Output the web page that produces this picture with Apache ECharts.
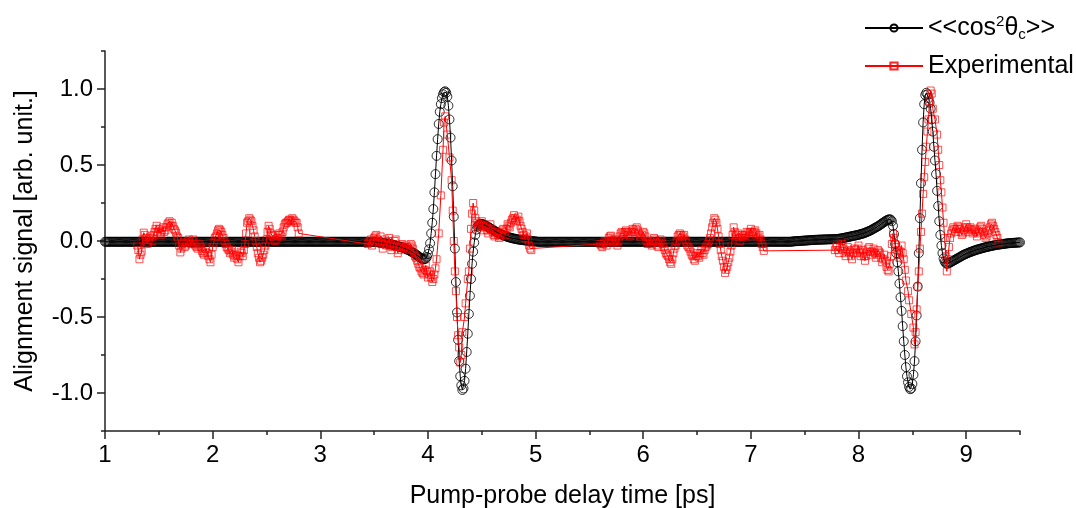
<!DOCTYPE html>
<html><head><meta charset="utf-8">
<script src="https://cdn.jsdelivr.net/npm/echarts@6/dist/echarts.min.js"></script>
<style>html,body{margin:0;padding:0;background:#fff}#c{width:1076px;height:508px}</style>
</head><body><div id="c"></div><script>
const xTicks=[1,2,3,4,5,6,7,8,9];
const xMinorTicks=[1.5,2.5,3.5,4.5,5.5,6.5,7.5,8.5,9.5];
const yTicks=[-1.0,-0.5,0.0,0.5,1.0];
const yMinorTicks=[-1.25,-0.75,-0.25,0.25,0.75,1.25];
const seriesNames=['<<cos²θc>>','Experimental'];

// theoretical <<cos^2 theta_c>> (x in ps, y)
const theory=[
[1.00,-0.005],[1.01,-0.005],[1.02,-0.005],[1.03,-0.005],[1.04,-0.005],[1.05,-0.005],[1.06,-0.005],[1.07,-0.005],[1.08,-0.005],[1.09,-0.005],
[1.10,-0.005],[1.11,-0.005],[1.12,-0.005],[1.13,-0.005],[1.14,-0.005],[1.15,-0.005],[1.16,-0.005],[1.17,-0.005],[1.18,-0.005],[1.19,-0.005],
[1.20,-0.005],[1.21,-0.005],[1.22,-0.005],[1.23,-0.005],[1.24,-0.005],[1.25,-0.005],[1.26,-0.005],[1.27,-0.005],[1.28,-0.005],[1.29,-0.005],
[1.30,-0.005],[1.31,-0.005],[1.32,-0.005],[1.33,-0.005],[1.34,-0.005],[1.35,-0.005],[1.36,-0.005],[1.37,-0.005],[1.38,-0.005],[1.39,-0.005],
[1.40,-0.005],[1.41,-0.005],[1.42,-0.005],[1.43,-0.005],[1.44,-0.005],[1.45,-0.005],[1.46,-0.005],[1.47,-0.005],[1.48,-0.005],[1.49,-0.005],
[1.50,-0.005],[1.51,-0.005],[1.52,-0.005],[1.53,-0.005],[1.54,-0.005],[1.55,-0.005],[1.56,-0.005],[1.57,-0.005],[1.58,-0.005],[1.59,-0.005],
[1.60,-0.005],[1.61,-0.005],[1.62,-0.005],[1.63,-0.005],[1.64,-0.005],[1.65,-0.005],[1.66,-0.005],[1.67,-0.005],[1.68,-0.005],[1.69,-0.005],
[1.70,-0.005],[1.71,-0.005],[1.72,-0.005],[1.73,-0.005],[1.74,-0.005],[1.75,-0.005],[1.76,-0.005],[1.77,-0.005],[1.78,-0.005],[1.79,-0.005],
[1.80,-0.005],[1.81,-0.005],[1.82,-0.005],[1.83,-0.005],[1.84,-0.005],[1.85,-0.005],[1.86,-0.005],[1.87,-0.005],[1.88,-0.005],[1.89,-0.005],
[1.90,-0.005],[1.91,-0.005],[1.92,-0.005],[1.93,-0.005],[1.94,-0.005],[1.95,-0.005],[1.96,-0.005],[1.97,-0.005],[1.98,-0.005],[1.99,-0.005],
[2.00,-0.005],[2.01,-0.005],[2.02,-0.005],[2.03,-0.005],[2.04,-0.005],[2.05,-0.005],[2.06,-0.005],[2.07,-0.005],[2.08,-0.005],[2.09,-0.005],
[2.10,-0.005],[2.11,-0.005],[2.12,-0.005],[2.13,-0.005],[2.14,-0.005],[2.15,-0.005],[2.16,-0.005],[2.17,-0.005],[2.18,-0.005],[2.19,-0.005],
[2.20,-0.005],[2.21,-0.005],[2.22,-0.005],[2.23,-0.005],[2.24,-0.005],[2.25,-0.005],[2.26,-0.005],[2.27,-0.005],[2.28,-0.005],[2.29,-0.005],
[2.30,-0.005],[2.31,-0.005],[2.32,-0.005],[2.33,-0.005],[2.34,-0.005],[2.35,-0.005],[2.36,-0.005],[2.37,-0.005],[2.38,-0.005],[2.39,-0.005],
[2.40,-0.005],[2.41,-0.005],[2.42,-0.005],[2.43,-0.005],[2.44,-0.005],[2.45,-0.005],[2.46,-0.005],[2.47,-0.005],[2.48,-0.005],[2.49,-0.005],
[2.50,-0.005],[2.51,-0.005],[2.52,-0.005],[2.53,-0.005],[2.54,-0.005],[2.55,-0.005],[2.56,-0.005],[2.57,-0.005],[2.58,-0.005],[2.59,-0.005],
[2.60,-0.005],[2.61,-0.005],[2.62,-0.005],[2.63,-0.005],[2.64,-0.005],[2.65,-0.005],[2.66,-0.005],[2.67,-0.005],[2.68,-0.005],[2.69,-0.005],
[2.70,-0.005],[2.71,-0.005],[2.72,-0.005],[2.73,-0.005],[2.74,-0.005],[2.75,-0.005],[2.76,-0.005],[2.77,-0.005],[2.78,-0.005],[2.79,-0.005],
[2.80,-0.005],[2.81,-0.005],[2.82,-0.005],[2.83,-0.005],[2.84,-0.005],[2.85,-0.005],[2.86,-0.005],[2.87,-0.005],[2.88,-0.005],[2.89,-0.005],
[2.90,-0.005],[2.91,-0.005],[2.92,-0.005],[2.93,-0.005],[2.94,-0.005],[2.95,-0.005],[2.96,-0.005],[2.97,-0.005],[2.98,-0.005],[2.99,-0.005],
[3.00,-0.005],[3.01,-0.005],[3.02,-0.005],[3.03,-0.005],[3.04,-0.005],[3.05,-0.005],[3.06,-0.005],[3.07,-0.005],[3.08,-0.005],[3.09,-0.005],
[3.10,-0.005],[3.11,-0.005],[3.12,-0.005],[3.13,-0.005],[3.14,-0.005],[3.15,-0.005],[3.16,-0.005],[3.17,-0.005],[3.18,-0.005],[3.19,-0.005],
[3.20,-0.005],[3.21,-0.005],[3.22,-0.005],[3.23,-0.005],[3.24,-0.005],[3.25,-0.005],[3.26,-0.005],[3.27,-0.005],[3.28,-0.005],[3.29,-0.005],
[3.30,-0.005],[3.31,-0.005],[3.32,-0.005],[3.33,-0.005],[3.34,-0.005],[3.35,-0.005],[3.36,-0.005],[3.37,-0.005],[3.38,-0.005],[3.39,-0.005],
[3.40,-0.005],[3.41,-0.005],[3.42,-0.005],[3.43,-0.005],[3.44,-0.005],[3.45,-0.005],[3.46,-0.005],[3.47,-0.005],[3.48,-0.005],[3.49,-0.005],
[3.50,-0.005],[3.51,-0.006],[3.52,-0.007],[3.53,-0.008],[3.54,-0.009],[3.55,-0.01],[3.56,-0.011],[3.57,-0.012],[3.58,-0.013],[3.59,-0.014],
[3.60,-0.015],[3.61,-0.016],[3.62,-0.017],[3.63,-0.018],[3.64,-0.019],[3.65,-0.02],[3.66,-0.022],[3.67,-0.024],[3.68,-0.026],[3.69,-0.028],
[3.70,-0.03],[3.71,-0.032],[3.72,-0.034],[3.73,-0.036],[3.74,-0.038],[3.75,-0.04],[3.76,-0.042],[3.77,-0.045],[3.78,-0.048],[3.79,-0.051],
[3.80,-0.054],[3.81,-0.057],[3.82,-0.06],[3.83,-0.064],[3.84,-0.068],[3.85,-0.072],[3.86,-0.076],[3.87,-0.08],[3.88,-0.085],[3.89,-0.09],
[3.90,-0.095],[3.91,-0.1],[3.92,-0.105],[3.93,-0.11],[3.94,-0.115],[3.95,-0.118],[3.96,-0.12],[3.97,-0.12],[3.98,-0.115],[3.99,-0.105],
[4.00,-0.085],[4.01,-0.055],[4.02,-0.015],[4.03,0.05],[4.04,0.12],[4.05,0.21],[4.06,0.32],[4.07,0.44],[4.08,0.56],[4.09,0.67],
[4.10,0.77],[4.11,0.85],[4.12,0.9],[4.13,0.94],[4.14,0.965],[4.15,0.98],[4.16,0.985],[4.17,0.975],[4.18,0.95],[4.19,0.89],
[4.20,0.8],[4.21,0.68],[4.22,0.53],[4.23,0.36],[4.24,0.16],[4.25,-0.05],[4.26,-0.27],[4.27,-0.47],[4.28,-0.65],[4.29,-0.79],
[4.30,-0.89],[4.31,-0.95],[4.32,-0.98],[4.33,-0.97],[4.34,-0.92],[4.35,-0.84],[4.36,-0.73],[4.37,-0.61],[4.38,-0.48],[4.39,-0.36],
[4.40,-0.25],[4.41,-0.15],[4.42,-0.07],[4.43,-0.01],[4.44,0.04],[4.45,0.075],[4.46,0.095],[4.47,0.105],[4.48,0.11],[4.49,0.112],
[4.50,0.112],[4.51,0.11],[4.52,0.108],[4.53,0.104],[4.54,0.1],[4.55,0.096],[4.56,0.092],[4.57,0.088],[4.58,0.083],[4.59,0.079],
[4.60,0.075],[4.61,0.07],[4.62,0.066],[4.63,0.062],[4.64,0.058],[4.65,0.054],[4.66,0.05],[4.67,0.047],[4.68,0.044],[4.69,0.041],
[4.70,0.038],[4.71,0.035],[4.72,0.032],[4.73,0.03],[4.74,0.027],[4.75,0.025],[4.76,0.023],[4.77,0.021],[4.78,0.019],[4.79,0.017],
[4.80,0.016],[4.81,0.014],[4.82,0.013],[4.83,0.011],[4.84,0.01],[4.85,0.009],[4.86,0.008],[4.87,0.007],[4.88,0.006],[4.89,0.005],
[4.90,0.004],[4.91,0.003],[4.92,0.002],[4.93,0.001],[4.94,0.001],[4.95,0.0],[4.96,0.0],[4.97,-0.001],[4.98,-0.002],[4.99,-0.002],
[5.00,-0.003],[5.01,-0.004],[5.02,-0.005],[5.03,-0.005],[5.04,-0.005],[5.05,-0.005],[5.06,-0.005],[5.07,-0.005],[5.08,-0.005],[5.09,-0.005],
[5.10,-0.005],[5.11,-0.005],[5.12,-0.005],[5.13,-0.005],[5.14,-0.005],[5.15,-0.005],[5.16,-0.005],[5.17,-0.005],[5.18,-0.005],[5.19,-0.005],
[5.20,-0.005],[5.21,-0.005],[5.22,-0.005],[5.23,-0.005],[5.24,-0.005],[5.25,-0.005],[5.26,-0.005],[5.27,-0.005],[5.28,-0.005],[5.29,-0.005],
[5.30,-0.005],[5.31,-0.005],[5.32,-0.005],[5.33,-0.005],[5.34,-0.005],[5.35,-0.005],[5.36,-0.005],[5.37,-0.005],[5.38,-0.005],[5.39,-0.005],
[5.40,-0.005],[5.41,-0.005],[5.42,-0.005],[5.43,-0.005],[5.44,-0.005],[5.45,-0.005],[5.46,-0.005],[5.47,-0.005],[5.48,-0.005],[5.49,-0.005],
[5.50,-0.005],[5.51,-0.005],[5.52,-0.005],[5.53,-0.005],[5.54,-0.005],[5.55,-0.005],[5.56,-0.005],[5.57,-0.005],[5.58,-0.005],[5.59,-0.005],
[5.60,-0.005],[5.61,-0.005],[5.62,-0.005],[5.63,-0.005],[5.64,-0.005],[5.65,-0.005],[5.66,-0.005],[5.67,-0.005],[5.68,-0.005],[5.69,-0.005],
[5.70,-0.005],[5.71,-0.005],[5.72,-0.005],[5.73,-0.005],[5.74,-0.005],[5.75,-0.005],[5.76,-0.005],[5.77,-0.005],[5.78,-0.005],[5.79,-0.005],
[5.80,-0.005],[5.81,-0.005],[5.82,-0.005],[5.83,-0.005],[5.84,-0.005],[5.85,-0.005],[5.86,-0.005],[5.87,-0.005],[5.88,-0.005],[5.89,-0.005],
[5.90,-0.005],[5.91,-0.005],[5.92,-0.005],[5.93,-0.005],[5.94,-0.005],[5.95,-0.005],[5.96,-0.005],[5.97,-0.005],[5.98,-0.005],[5.99,-0.005],
[6.00,-0.005],[6.01,-0.005],[6.02,-0.005],[6.03,-0.005],[6.04,-0.005],[6.05,-0.005],[6.06,-0.005],[6.07,-0.005],[6.08,-0.005],[6.09,-0.005],
[6.10,-0.005],[6.11,-0.005],[6.12,-0.005],[6.13,-0.005],[6.14,-0.005],[6.15,-0.005],[6.16,-0.005],[6.17,-0.005],[6.18,-0.005],[6.19,-0.005],
[6.20,-0.005],[6.21,-0.005],[6.22,-0.005],[6.23,-0.005],[6.24,-0.005],[6.25,-0.005],[6.26,-0.005],[6.27,-0.005],[6.28,-0.005],[6.29,-0.005],
[6.30,-0.005],[6.31,-0.005],[6.32,-0.005],[6.33,-0.005],[6.34,-0.005],[6.35,-0.005],[6.36,-0.005],[6.37,-0.005],[6.38,-0.005],[6.39,-0.005],
[6.40,-0.005],[6.41,-0.005],[6.42,-0.005],[6.43,-0.005],[6.44,-0.005],[6.45,-0.005],[6.46,-0.005],[6.47,-0.005],[6.48,-0.005],[6.49,-0.005],
[6.50,-0.005],[6.51,-0.005],[6.52,-0.005],[6.53,-0.005],[6.54,-0.005],[6.55,-0.005],[6.56,-0.005],[6.57,-0.005],[6.58,-0.005],[6.59,-0.005],
[6.60,-0.005],[6.61,-0.005],[6.62,-0.005],[6.63,-0.005],[6.64,-0.005],[6.65,-0.005],[6.66,-0.005],[6.67,-0.005],[6.68,-0.005],[6.69,-0.005],
[6.70,-0.005],[6.71,-0.005],[6.72,-0.005],[6.73,-0.005],[6.74,-0.005],[6.75,-0.005],[6.76,-0.005],[6.77,-0.005],[6.78,-0.005],[6.79,-0.005],
[6.80,-0.005],[6.81,-0.005],[6.82,-0.005],[6.83,-0.005],[6.84,-0.005],[6.85,-0.005],[6.86,-0.005],[6.87,-0.005],[6.88,-0.005],[6.89,-0.005],
[6.90,-0.005],[6.91,-0.005],[6.92,-0.005],[6.93,-0.005],[6.94,-0.005],[6.95,-0.005],[6.96,-0.005],[6.97,-0.005],[6.98,-0.005],[6.99,-0.005],
[7.00,-0.005],[7.01,-0.005],[7.02,-0.005],[7.03,-0.005],[7.04,-0.005],[7.05,-0.005],[7.06,-0.005],[7.07,-0.005],[7.08,-0.005],[7.09,-0.005],
[7.10,-0.005],[7.11,-0.005],[7.12,-0.005],[7.13,-0.005],[7.14,-0.005],[7.15,-0.005],[7.16,-0.005],[7.17,-0.005],[7.18,-0.005],[7.19,-0.005],
[7.20,-0.005],[7.21,-0.005],[7.22,-0.005],[7.23,-0.005],[7.24,-0.005],[7.25,-0.005],[7.26,-0.005],[7.27,-0.005],[7.28,-0.005],[7.29,-0.005],
[7.30,-0.005],[7.31,-0.005],[7.32,-0.005],[7.33,-0.005],[7.34,-0.005],[7.35,-0.005],[7.36,-0.005],[7.37,-0.005],[7.38,-0.004],[7.39,-0.003],
[7.40,-0.002],[7.41,-0.002],[7.42,-0.001],[7.43,-0.001],[7.44,0.0],[7.45,0.0],[7.46,0.001],[7.47,0.001],[7.48,0.002],[7.49,0.002],
[7.50,0.003],[7.51,0.003],[7.52,0.004],[7.53,0.004],[7.54,0.005],[7.55,0.005],[7.56,0.006],[7.57,0.006],[7.58,0.007],[7.59,0.007],
[7.60,0.008],[7.61,0.008],[7.62,0.008],[7.63,0.009],[7.64,0.009],[7.65,0.009],[7.66,0.009],[7.67,0.01],[7.68,0.01],[7.69,0.01],
[7.70,0.01],[7.71,0.011],[7.72,0.011],[7.73,0.011],[7.74,0.011],[7.75,0.012],[7.76,0.012],[7.77,0.012],[7.78,0.012],[7.79,0.013],
[7.80,0.013],[7.81,0.014],[7.82,0.015],[7.83,0.016],[7.84,0.017],[7.85,0.018],[7.86,0.02],[7.87,0.021],[7.88,0.023],[7.89,0.024],
[7.90,0.026],[7.91,0.027],[7.92,0.029],[7.93,0.03],[7.94,0.032],[7.95,0.033],[7.96,0.035],[7.97,0.036],[7.98,0.038],[7.99,0.039],
[8.00,0.041],[8.01,0.043],[8.02,0.045],[8.03,0.047],[8.04,0.049],[8.05,0.051],[8.06,0.054],[8.07,0.057],[8.08,0.06],[8.09,0.063],
[8.10,0.066],[8.11,0.069],[8.12,0.073],[8.13,0.077],[8.14,0.081],[8.15,0.085],[8.16,0.089],[8.17,0.093],[8.18,0.097],[8.19,0.101],
[8.20,0.106],[8.21,0.111],[8.22,0.116],[8.23,0.121],[8.24,0.126],[8.25,0.131],[8.26,0.135],[8.27,0.139],[8.28,0.142],[8.29,0.143],
[8.30,0.14],[8.31,0.13],[8.32,0.1],[8.33,0.045],[8.34,-0.02],[8.35,-0.08],[8.36,-0.14],[8.37,-0.2],[8.38,-0.28],[8.39,-0.37],
[8.40,-0.46],[8.41,-0.56],[8.42,-0.66],[8.43,-0.75],[8.44,-0.83],[8.45,-0.89],[8.46,-0.93],[8.47,-0.96],[8.48,-0.975],[8.49,-0.97],
[8.50,-0.94],[8.51,-0.88],[8.52,-0.79],[8.53,-0.66],[8.54,-0.49],[8.55,-0.3],[8.56,-0.08],[8.57,0.15],[8.58,0.38],[8.59,0.6],
[8.60,0.78],[8.61,0.9],[8.62,0.96],[8.63,0.975],[8.64,0.965],[8.65,0.94],[8.66,0.91],[8.67,0.87],[8.68,0.8],[8.69,0.72],
[8.70,0.62],[8.71,0.53],[8.72,0.44],[8.73,0.33],[8.74,0.23],[8.75,0.13],[8.76,0.04],[8.77,-0.03],[8.78,-0.08],[8.79,-0.115],
[8.80,-0.135],[8.81,-0.145],[8.82,-0.15],[8.83,-0.148],[8.84,-0.145],[8.85,-0.142],[8.86,-0.138],[8.87,-0.134],[8.88,-0.13],[8.89,-0.126],
[8.90,-0.122],[8.91,-0.118],[8.92,-0.114],[8.93,-0.11],[8.94,-0.106],[8.95,-0.102],[8.96,-0.098],[8.97,-0.094],[8.98,-0.09],[8.99,-0.087],
[9.00,-0.084],[9.01,-0.081],[9.02,-0.078],[9.03,-0.075],[9.04,-0.072],[9.05,-0.07],[9.06,-0.067],[9.07,-0.064],[9.08,-0.062],[9.09,-0.06],
[9.10,-0.057],[9.11,-0.055],[9.12,-0.053],[9.13,-0.051],[9.14,-0.049],[9.15,-0.047],[9.16,-0.045],[9.17,-0.043],[9.18,-0.041],[9.19,-0.04],
[9.20,-0.038],[9.21,-0.036],[9.22,-0.035],[9.23,-0.033],[9.24,-0.032],[9.25,-0.03],[9.26,-0.029],[9.27,-0.027],[9.28,-0.026],[9.29,-0.025],
[9.30,-0.024],[9.31,-0.023],[9.32,-0.022],[9.33,-0.021],[9.34,-0.02],[9.35,-0.019],[9.36,-0.018],[9.37,-0.017],[9.38,-0.016],[9.39,-0.015],
[9.40,-0.014],[9.41,-0.014],[9.42,-0.013],[9.43,-0.013],[9.44,-0.012],[9.45,-0.012],[9.46,-0.011],[9.47,-0.011],[9.48,-0.01],[9.49,-0.01],
[9.50,-0.009]
];

// experimental alignment signal (x in ps, y)
const experimental=[
[1.30,-0.03],[1.31,-0.06],[1.32,-0.12],[1.33,-0.09],[1.34,-0.07],[1.35,0.01],[1.36,0.055],[1.37,0.04],[1.38,0.02],[1.39,-0.02],
[1.40,-0.01],[1.41,0.01],[1.42,0.03],[1.43,0.02],[1.44,0.0],[1.45,0.04],[1.46,0.06],[1.47,0.08],[1.48,0.1],[1.49,0.06],
[1.50,0.08],[1.51,0.05],[1.52,0.04],[1.53,0.07],[1.54,0.09],[1.55,0.06],[1.56,0.07],[1.57,0.09],[1.58,0.11],[1.59,0.12],
[1.60,0.13],[1.61,0.1],[1.62,0.12],[1.63,0.1],[1.64,0.08],[1.65,0.07],[1.66,0.055],[1.67,0.03],[1.68,0.02],[1.69,-0.03],
[1.70,-0.075],[1.71,-0.05],[1.72,-0.02],[1.73,-0.01],[1.74,-0.04],[1.75,-0.03],[1.76,-0.01],[1.77,0.0],[1.78,0.01],[1.79,-0.01],
[1.80,-0.02],[1.81,0.0],[1.82,0.01],[1.83,-0.02],[1.84,-0.03],[1.85,-0.04],[1.86,-0.05],[1.87,-0.03],[1.88,-0.02],[1.89,-0.04],
[1.90,-0.065],[1.91,-0.08],[1.92,-0.09],[1.93,-0.07],[1.94,-0.05],[1.95,-0.08],[1.96,-0.1],[1.97,-0.12],[1.98,-0.14],[1.99,-0.09],
[2.00,-0.04],[2.01,-0.01],[2.02,0.02],[2.03,0.03],[2.04,0.05],[2.05,0.07],[2.06,0.08],[2.07,0.07],[2.08,0.06],[2.09,0.04],
[2.10,0.02],[2.11,0.0],[2.12,-0.02],[2.13,-0.04],[2.14,-0.05],[2.15,-0.06],[2.16,-0.08],[2.17,-0.07],[2.18,-0.06],[2.19,-0.09],
[2.20,-0.11],[2.21,-0.1],[2.22,-0.09],[2.23,-0.12],[2.24,-0.14],[2.25,-0.1],[2.26,-0.07],[2.27,-0.08],[2.28,-0.1],[2.29,-0.06],
[2.30,-0.02],[2.31,0.05],[2.32,0.12],[2.33,0.13],[2.34,0.15],[2.35,0.14],[2.36,0.13],[2.37,0.1],[2.38,0.07],[2.39,0.03],
[2.40,0.0],[2.41,-0.04],[2.42,-0.08],[2.43,-0.11],[2.44,-0.14],[2.45,-0.13],[2.46,-0.11],[2.47,-0.09],[2.48,-0.06],[2.49,-0.03],
[2.50,0.01],[2.51,0.06],[2.52,0.1],[2.53,0.08],[2.54,0.05],[2.55,0.04],[2.56,0.03],[2.57,0.01],[2.58,0.0],[2.59,0.01],
[2.60,0.02],[2.61,0.04],[2.62,0.05],[2.63,0.04],[2.64,0.03],[2.65,0.06],[2.66,0.09],[2.67,0.11],[2.68,0.12],[2.69,0.12],
[2.70,0.13],[2.71,0.14],[2.72,0.14],[2.73,0.13],[2.74,0.15],[2.75,0.14],[2.76,0.13],[2.77,0.12],[2.78,0.12],[2.79,0.09],[2.80,0.05],
[3.44,-0.02],[3.45,-0.01],[3.46,0.0],[3.47,0.01],[3.48,-0.03],[3.49,-0.01],[3.50,0.02],[3.51,0.03],[3.52,0.04],[3.53,0.01],
[3.54,-0.01],[3.55,0.0],[3.56,0.03],[3.57,-0.02],[3.58,-0.05],[3.59,-0.02],[3.60,0.01],[3.61,-0.01],[3.62,-0.03],[3.63,0.0],
[3.64,0.02],[3.65,-0.03],[3.66,-0.06],[3.67,-0.04],[3.68,-0.02],[3.69,0.0],[3.70,0.01],[3.71,-0.04],[3.72,-0.08],[3.73,-0.06],
[3.74,-0.04],[3.75,-0.03],[3.76,-0.02],[3.77,-0.04],[3.78,-0.05],[3.79,-0.04],[3.80,-0.03],[3.81,-0.05],[3.82,-0.06],[3.83,-0.04],
[3.84,-0.02],[3.85,-0.03],[3.86,-0.05],[3.87,-0.08],[3.88,-0.1],[3.89,-0.11],[3.90,-0.13],[3.91,-0.15],[3.92,-0.17],[3.93,-0.18],
[3.94,-0.2],[3.95,-0.21],[3.96,-0.22],[3.97,-0.19],[3.98,-0.16],[3.99,-0.2],[4.00,-0.24],[4.01,-0.22],[4.02,-0.2],[4.03,-0.24],
[4.04,-0.27],[4.05,-0.25],[4.06,-0.22],[4.07,-0.18],[4.08,-0.12],[4.10,0.05],[4.12,0.3],[4.14,0.6],[4.15,0.78],[4.16,0.82],
[4.18,0.7],[4.20,0.55],[4.22,0.4],[4.23,0.2],[4.24,0.0],[4.25,-0.2],[4.26,-0.33],[4.27,-0.5],[4.28,-0.62],[4.29,-0.7],
[4.30,-0.8],[4.31,-0.75],[4.32,-0.6],[4.34,-0.5],[4.35,-0.41],[4.37,-0.25],[4.38,-0.2],[4.39,-0.05],[4.40,0.08],[4.41,0.18],
[4.42,0.25],[4.43,0.2],[4.44,0.15],[4.45,0.13],[4.46,0.12],[4.47,0.1],[4.48,0.09],[4.49,0.11],[4.50,0.13],[4.51,0.1],
[4.52,0.07],[4.53,0.09],[4.54,0.1],[4.55,0.07],[4.56,0.05],[4.57,0.08],[4.58,0.11],[4.59,0.08],[4.60,0.06],[4.61,0.04],
[4.62,0.03],[4.63,0.05],[4.64,0.06],[4.65,0.04],[4.66,0.02],[4.67,0.03],[4.68,0.05],[4.69,0.07],[4.70,0.08],[4.71,0.06],
[4.72,0.04],[4.73,0.08],[4.74,0.11],[4.75,0.1],[4.76,0.09],[4.77,0.12],[4.78,0.14],[4.79,0.15],[4.80,0.17],[4.81,0.15],
[4.82,0.13],[4.83,0.14],[4.84,0.16],[4.85,0.13],[4.86,0.1],[4.87,0.08],[4.88,0.06],[4.89,0.04],[4.90,0.02],[4.91,0.03],
[4.92,0.05],[4.93,0.01],[4.94,-0.03],[4.95,-0.05],[4.96,-0.06],
[5.60,-0.02],[5.61,-0.03],[5.62,-0.04],[5.63,-0.02],[5.64,0.0],[5.65,-0.01],[5.66,-0.03],[5.67,0.0],[5.68,0.02],[5.69,0.03],
[5.70,0.035],[5.71,0.01],[5.72,-0.01],[5.73,0.0],[5.74,0.01],[5.75,-0.01],[5.76,-0.03],[5.77,0.0],[5.78,0.03],[5.79,0.05],
[5.80,0.06],[5.81,0.05],[5.82,0.04],[5.83,0.06],[5.84,0.07],[5.85,0.06],[5.86,0.05],[5.87,0.04],[5.88,0.03],[5.89,0.06],
[5.90,0.08],[5.91,0.07],[5.92,0.06],[5.93,0.08],[5.94,0.09],[5.95,0.07],[5.96,0.05],[5.97,0.03],[5.98,0.02],[5.99,0.04],
[6.00,0.06],[6.01,0.05],[6.02,0.03],[6.03,0.0],[6.04,-0.02],[6.05,-0.01],[6.06,0.0],[6.07,-0.02],[6.08,-0.03],[6.09,0.0],
[6.10,0.02],[6.11,0.01],[6.12,-0.01],[6.13,-0.03],[6.14,-0.04],[6.15,-0.01],[6.16,0.01],[6.17,0.0],[6.18,-0.02],[6.19,-0.04],
[6.20,-0.06],[6.21,-0.08],[6.22,-0.09],[6.23,-0.1],[6.24,-0.12],[6.25,-0.14],[6.26,-0.15],[6.27,-0.12],[6.28,-0.08],[6.29,-0.05],
[6.30,-0.03],[6.31,0.0],[6.32,0.03],[6.33,0.04],[6.34,0.05],[6.35,0.04],[6.36,0.02],[6.37,0.03],[6.38,0.04],[6.39,0.01],
[6.40,-0.01],[6.41,-0.03],[6.42,-0.04],[6.43,-0.05],[6.44,-0.07],[6.45,-0.09],[6.46,-0.1],[6.47,-0.12],[6.48,-0.13],[6.49,-0.1],
[6.50,-0.08],[6.51,-0.1],[6.52,-0.11],[6.53,-0.08],[6.54,-0.06],[6.55,-0.08],[6.56,-0.09],[6.57,-0.06],[6.58,-0.04],[6.59,-0.03],
[6.60,-0.02],[6.61,0.0],[6.62,0.02],[6.63,0.05],[6.64,0.09],[6.65,0.12],[6.66,0.15],[6.67,0.14],[6.68,0.12],[6.69,0.08],
[6.70,0.03],[6.71,-0.02],[6.72,-0.06],[6.73,-0.1],[6.74,-0.13],[6.75,-0.17],[6.76,-0.21],[6.77,-0.19],[6.78,-0.17],[6.79,-0.14],
[6.80,-0.11],[6.81,-0.07],[6.82,-0.03],[6.83,0.04],[6.84,0.09],[6.85,0.06],[6.86,0.03],[6.87,0.04],[6.88,0.05],[6.89,0.02],
[6.90,0.0],[6.91,0.02],[6.92,0.04],[6.93,0.03],[6.94,0.02],[6.95,0.04],[6.96,0.06],[6.97,0.05],[6.98,0.03],[6.99,0.06],
[7.00,0.08],[7.01,0.06],[7.02,0.05],[7.03,0.06],[7.04,0.07],[7.05,0.05],[7.06,0.02],[7.07,0.03],[7.08,0.04],[7.09,0.01],
[7.10,-0.02],[7.11,-0.04],[7.12,-0.065],
[7.78,-0.06],[7.79,-0.04],[7.80,-0.03],[7.81,-0.06],[7.82,-0.08],[7.83,-0.04],[7.84,0.0],[7.85,-0.02],[7.86,-0.05],[7.87,-0.08],
[7.88,-0.1],[7.89,-0.07],[7.90,-0.04],[7.91,-0.06],[7.92,-0.07],[7.93,-0.1],[7.94,-0.12],[7.95,-0.08],[7.96,-0.05],[7.97,-0.06],
[7.98,-0.08],[7.99,-0.05],[8.00,-0.03],[8.01,-0.07],[8.02,-0.1],[8.03,-0.08],[8.04,-0.06],[8.05,-0.1],[8.06,-0.13],[8.07,-0.1],
[8.08,-0.07],[8.09,-0.05],[8.10,-0.04],[8.11,-0.07],[8.12,-0.09],[8.13,-0.07],[8.14,-0.05],[8.15,-0.08],[8.16,-0.11],[8.17,-0.09],
[8.18,-0.06],[8.19,-0.07],[8.20,-0.08],[8.21,-0.11],[8.22,-0.14],[8.23,-0.12],[8.24,-0.09],[8.25,-0.13],[8.26,-0.17],[8.27,-0.19],
[8.28,-0.2],[8.29,-0.15],[8.30,-0.1],[8.31,-0.02],[8.32,0.05],[8.33,0.02],[8.34,-0.02],[8.35,-0.04],[8.36,-0.06],[8.37,-0.09],
[8.38,-0.11],[8.39,-0.07],[8.40,-0.03],[8.41,-0.08],[8.42,-0.12],[8.43,-0.19],[8.44,-0.26],[8.46,-0.33],[8.47,-0.39],[8.49,-0.48],
[8.51,-0.57],[8.52,-0.68],[8.53,-0.6],[8.54,-0.45],[8.55,-0.3],[8.56,-0.2],[8.57,-0.05],[8.58,0.06],[8.59,0.18],[8.60,0.31],
[8.61,0.42],[8.62,0.52],[8.63,0.62],[8.64,0.72],[8.65,0.8],[8.66,0.92],[8.67,0.99],[8.68,0.97],[8.69,0.87],[8.71,0.8],
[8.73,0.7],[8.74,0.6],[8.75,0.5],[8.76,0.4],[8.77,0.32],[8.78,0.22],[8.79,0.12],[8.80,0.02],[8.81,-0.1],[8.82,-0.2],
[8.83,-0.12],[8.84,-0.04],[8.85,0.02],[8.86,0.05],[8.87,0.07],[8.88,0.09],[8.89,0.08],[8.90,0.06],[8.91,0.08],[8.92,0.1],
[8.93,0.09],[8.94,0.08],[8.95,0.06],[8.96,0.04],[8.97,0.05],[8.98,0.07],[8.99,0.09],[9.00,0.11],[9.01,0.09],[9.02,0.06],
[9.03,0.08],[9.04,0.09],[9.05,0.07],[9.06,0.05],[9.07,0.07],[9.08,0.08],[9.09,0.06],[9.10,0.03],[9.11,0.05],[9.12,0.07],
[9.13,0.09],[9.14,0.1],[9.15,0.08],[9.16,0.06],[9.17,0.04],[9.18,0.02],[9.19,0.03],[9.20,0.05],[9.21,0.07],[9.22,0.09],
[9.23,0.11],[9.24,0.12],[9.25,0.1],[9.26,0.08],[9.27,0.06],[9.28,0.04],[9.29,0.02],[9.30,-0.01]
];

const FONT='"Liberation Sans", Arial, sans-serif';
const AX='#222';
const THEORY_MARK={symbol:'circle',symbolSize:9,itemStyle:{color:'rgba(0,0,0,0)',borderColor:'#000',borderWidth:1}};
const EXP_MARK={symbol:'rect',symbolSize:7,itemStyle:{color:'rgba(0,0,0,0)',borderColor:'rgba(255,0,0,0.85)',borderWidth:1}};
const chart=echarts.init(document.getElementById('c'),null,{renderer:'canvas'});
chart.setOption({
  animation:false,
  backgroundColor:'#fff',
  textStyle:{fontFamily:FONT,color:'#000'},
  grid:{left:105,right:56,top:51,bottom:77,containLabel:false,outerBoundsMode:'none'},
  legend:{
    orient:'vertical',left:864,top:14,padding:0,itemGap:10,
    itemWidth:58,itemHeight:9,selectedMode:false,
    data:seriesNames,
    textStyle:{fontSize:25,lineHeight:28,color:'#000',fontFamily:FONT,
      rich:{
        sup:{fontSize:15,lineHeight:15,verticalAlign:'top',fontFamily:FONT,color:'#000'},
        sub:{fontSize:15,lineHeight:10,verticalAlign:'bottom',fontFamily:FONT,color:'#000'}
      }},
    formatter:function(n){return n===seriesNames[0]?'<<cos{sup|2}θ{sub|c}>>':n;}
  },
  xAxis:[{
    type:'value',min:1,max:9.5,interval:0.5,position:'bottom',
    name:'Pump-probe delay time [ps]',nameLocation:'middle',nameGap:53,
    nameTextStyle:{fontSize:25,color:'#000',fontFamily:FONT},
    axisLine:{show:true,onZero:false,lineStyle:{color:AX,width:1.5}},
    axisTick:{show:true,length:8,customValues:xTicks,lineStyle:{color:AX,width:1.5}},
    axisLabel:{customValues:xTicks,fontSize:24,color:'#000',margin:12,fontFamily:FONT,formatter:v=>String(v)},
    splitLine:{show:false}
  },{
    type:'value',min:1,max:9.5,interval:0.5,position:'bottom',
    axisLine:{show:false,onZero:false},
    axisTick:{show:true,length:4,customValues:xMinorTicks,lineStyle:{color:AX,width:1.5}},
    axisLabel:{show:false},splitLine:{show:false}
  }],
  yAxis:[{
    type:'value',min:-1.25,max:1.25,interval:0.25,position:'left',
    name:'Alignment signal [arb. unit.]',nameLocation:'middle',nameGap:67,
    nameTextStyle:{fontSize:25,color:'#000',fontFamily:FONT},
    axisLine:{show:true,onZero:false,lineStyle:{color:AX,width:1.5}},
    axisTick:{show:true,length:8,customValues:yTicks,lineStyle:{color:AX,width:1.5}},
    axisLabel:{customValues:yTicks,fontSize:24,color:'#000',margin:12,fontFamily:FONT,formatter:v=>v.toFixed(1)},
    splitLine:{show:false}
  },{
    type:'value',min:-1.25,max:1.25,interval:0.25,position:'left',
    axisLine:{show:false,onZero:false},
    axisTick:{show:true,length:4,customValues:yMinorTicks,lineStyle:{color:AX,width:1.5}},
    axisLabel:{show:false},splitLine:{show:false}
  }],
  series:[{
    name:seriesNames[0],type:'line',data:theory,
    symbol:THEORY_MARK.symbol,symbolSize:THEORY_MARK.symbolSize,showSymbol:false,silent:true,
    itemStyle:THEORY_MARK.itemStyle,lineStyle:{color:'#000',width:1},emphasis:{disabled:true}
  },{
    name:'theory-marks',type:'scatter',data:theory,silent:true,large:false,
    symbol:THEORY_MARK.symbol,symbolSize:THEORY_MARK.symbolSize,itemStyle:THEORY_MARK.itemStyle,emphasis:{disabled:true}
  },{
    name:seriesNames[1],type:'line',data:experimental,
    symbol:EXP_MARK.symbol,symbolSize:EXP_MARK.symbolSize,showSymbol:false,silent:true,
    itemStyle:EXP_MARK.itemStyle,lineStyle:{color:'#ff0000',width:1},emphasis:{disabled:true}
  },{
    name:'exp-marks',type:'scatter',data:experimental,silent:true,large:false,
    symbol:EXP_MARK.symbol,symbolSize:EXP_MARK.symbolSize,itemStyle:EXP_MARK.itemStyle,emphasis:{disabled:true}
  }]
});
</script></body></html>
